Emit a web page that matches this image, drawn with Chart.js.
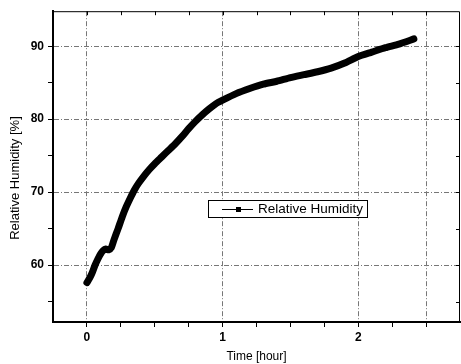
<!DOCTYPE html>
<html>
<head>
<meta charset="utf-8">
<script src="https://cdn.jsdelivr.net/npm/chart.js@4/dist/chart.umd.min.js"></script>
<style>
html,body{margin:0;padding:0;background:#fff;}
canvas{display:block;}
</style>
</head>
<body>
<canvas id="c" width="461" height="364"></canvas>
<script>
// ---- data ----
const timeHours = [0.00,0.02,0.04,0.06,0.08,0.10,0.12,0.14,0.16,0.18,0.20,0.23,0.26,0.29,0.32,0.35,0.38,0.42,0.46,0.50,0.55,0.60,0.65,0.70,0.75,0.80,0.85,0.90,0.95,1.00,1.10,1.20,1.30,1.40,1.50,1.60,1.70,1.80,1.90,2.00,2.10,2.20,2.30,2.41];
const relHumidity = [57.6,58.2,59.0,60.0,60.8,61.5,62.0,62.2,62.1,62.4,63.5,65.0,66.6,68.0,69.2,70.3,71.2,72.2,73.1,73.9,74.8,75.7,76.6,77.6,78.7,79.7,80.6,81.4,82.1,82.6,83.5,84.2,84.8,85.2,85.7,86.1,86.5,87.0,87.7,88.6,89.2,89.8,90.3,91.0];
const seriesLabel = 'Relative Humidity';
const xTickValues = [0,0.25,0.5,0.75,1,1.25,1.5,1.75,2,2.25,2.5];
const xLabelValues = [0,1,2];
const xGridValues = [0,1,2,2.5];
const yTickValues = [55,60,65,70,75,80,85,90];
const yLabelValues = [60,70,80,90];
const xTitle = 'Time [hour]';
const yTitle = 'Relative Humidity [%]';

const points = timeHours.map((t,i)=>({x:t, y:relHumidity[i]}));
const FONT = '"Liberation Sans", Arial, sans-serif';

const framePlugin = {
  id:'frame',
  afterDraw(chart){
    const {ctx, chartArea:a, scales} = chart;
    const xs = scales.x, ys = scales.y;
    ctx.save();
    ctx.strokeStyle = '#000';
    ctx.lineWidth = 1;
    ctx.beginPath();
    ctx.moveTo(a.left, a.top+0.5);
    ctx.lineTo(a.right-0.5, a.top+0.5);
    ctx.lineTo(a.right-0.5, a.bottom);
    xTickValues.forEach(v=>{const px=Math.round(xs.getPixelForValue(v))+0.5; ctx.moveTo(px,a.top); ctx.lineTo(px,a.top+4);});
    yTickValues.forEach(v=>{const py=Math.round(ys.getPixelForValue(v))+0.5; ctx.moveTo(a.right,py); ctx.lineTo(a.right-4,py);});
    ctx.stroke();

    // y axis title
    ctx.save();
    ctx.translate(15,178);
    ctx.rotate(-Math.PI/2);
    ctx.font = '13px ' + FONT;
    ctx.fillStyle = '#000';
    ctx.textAlign = 'center';
    ctx.textBaseline = 'middle';
    ctx.fillText(yTitle,0,0);
    ctx.restore();

    // legend box
    ctx.fillStyle = '#fff';
    ctx.fillRect(208,200,159,17);
    ctx.strokeStyle = '#000';
    ctx.lineWidth = 1;
    ctx.strokeRect(208.5,200.5,159,17);
    ctx.beginPath();
    ctx.moveTo(222,209.5); ctx.lineTo(253,209.5);
    ctx.stroke();
    ctx.fillStyle = '#000';
    ctx.fillRect(236,207,5,5);
    ctx.font = '13.5px ' + FONT;
    ctx.textAlign = 'left';
    ctx.textBaseline = 'middle';
    ctx.fillText(chart.data.datasets[0].label, 258, 209.5);
    ctx.restore();
  }
};

new Chart(document.getElementById('c'), {
  type:'line',
  data:{ datasets:[{
    label: seriesLabel,
    data: points,
    borderColor:'#000',
    backgroundColor:'#000',
    borderWidth:7,
    borderJoinStyle:'round',
    borderCapStyle:'round',
    pointRadius:0,
    tension:0.2,
    fill:false
  }]},
  options:{
    responsive:false,
    animation:false,
    devicePixelRatio:1,
    layout:{padding:{top:10,right:1,bottom:0,left:0}},
    plugins:{legend:{display:false}, tooltip:{enabled:false}},
    scales:{
      x:{
        type:'linear',
        min:-0.25, max:2.75,
        afterFit(s){ s.height = 42; },
        afterBuildTicks(s){ s.ticks = xTickValues.map(v=>({value:v})); },
        ticks:{
          color:'#000',
          font:{family:FONT, size:12, weight:'bold'},
          padding:3,
          maxRotation:0,
          autoSkip:false,
          callback:(v)=> xLabelValues.includes(v) ? String(v) : ''
        },
        grid:{
          color:(c)=> (c.tick && xGridValues.includes(c.tick.value)) ? '#777' : 'rgba(0,0,0,0)',
          tickColor:'#000',
          tickLength:5,
          lineWidth:1
        },
        border:{display:true, color:'#000', width:2, dash:[5,2,1,2]},
        title:{display:true, text:xTitle, color:'#000', font:{family:FONT, size:12}, padding:{top:0,bottom:0}}
      },
      y:{
        type:'linear',
        min:52.2, max:94.8,
        afterFit(s){ s.width = 53; },
        afterBuildTicks(s){ s.ticks = yTickValues.map(v=>({value:v})); },
        ticks:{
          color:'#000',
          font:{family:FONT, size:12, weight:'bold'},
          padding:4,
          autoSkip:false,
          callback:(v)=> yLabelValues.includes(v) ? String(v) : ''
        },
        grid:{
          color:(c)=> (c.tick && yLabelValues.includes(c.tick.value)) ? '#777' : 'rgba(0,0,0,0)',
          tickColor:'#000',
          tickLength:5,
          lineWidth:1
        },
        border:{display:true, color:'#000', width:2, dash:[5,2,1,2]},
        title:{display:false}
      }
    }
  },
  plugins:[framePlugin]
});
</script>
</body>
</html>
